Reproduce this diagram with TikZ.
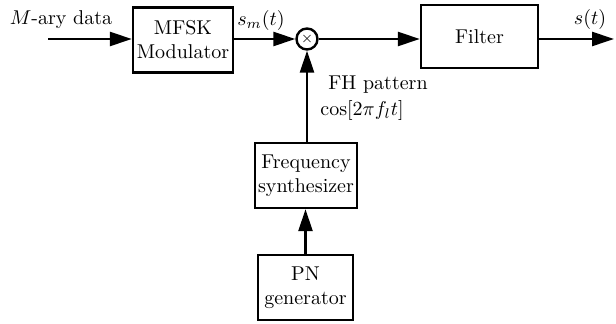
\documentclass[tikz,border=0pt]{standalone}
\usetikzlibrary{arrows.meta}
\begin{document}
\begin{tikzpicture}[x=0.5pt,y=-0.5pt,
  blk/.style={draw, line width=1.2pt, rectangle, align=center, inner sep=0pt, font=\fontsize{10}{12}\selectfont},
  conn/.style={line width=1.3pt, -{Triangle[length=11pt,width=7pt]}},
  lbl/.style={inner sep=0pt, font=\fontsize{10}{12}\selectfont}]
\useasboundingbox (0,0) rectangle (616,324);
\node[blk, minimum width=50pt, minimum height=32.5pt] (mfsk) at (183,40) {MFSK\\Modulator};
\node[draw, line width=1.2pt, circle, minimum size=10.5pt, inner sep=0pt] (mul) at (307,39) {\scriptsize$\times$};
\node[blk, minimum width=58.5pt, minimum height=31.5pt] (filt) at (479.5,36.5) {Filter};
\node[blk, minimum width=51pt, minimum height=32.5pt] (fs) at (306,175.5) {Frequency\\synthesizer};
\node[blk, minimum width=47.5pt, minimum height=32.5pt] (pn) at (305.5,287.5) {PN\\generator};
\coordinate (in) at (48,39);
\coordinate (out) at (614,39);
\draw[conn] (in) -- (mfsk.west |- in);
\draw[conn] (mfsk.east |- mul) -- (mul.west);
\draw[conn] (mul.east) -- (filt.west |- mul);
\draw[conn] (filt.east |- mul) -- (out);
\draw[conn] (fs.north -| mul) -- (mul.south);
\draw[conn] (pn.north) -- (fs.south -| pn.north);
\node[lbl] (ml) at (61,20) {$M$-ary data};
\node[lbl] (sm) at (261,21) {$s_m(t)$};
\node[lbl] (st) at (590,20) {$s(t)$};
\node[lbl, anchor=west] (fh) at (328,85) {FH pattern};
\node[lbl, anchor=west] (cs) at (320,111) {$\cos[2\pi f_l t]$};
\end{tikzpicture}
\end{document}
